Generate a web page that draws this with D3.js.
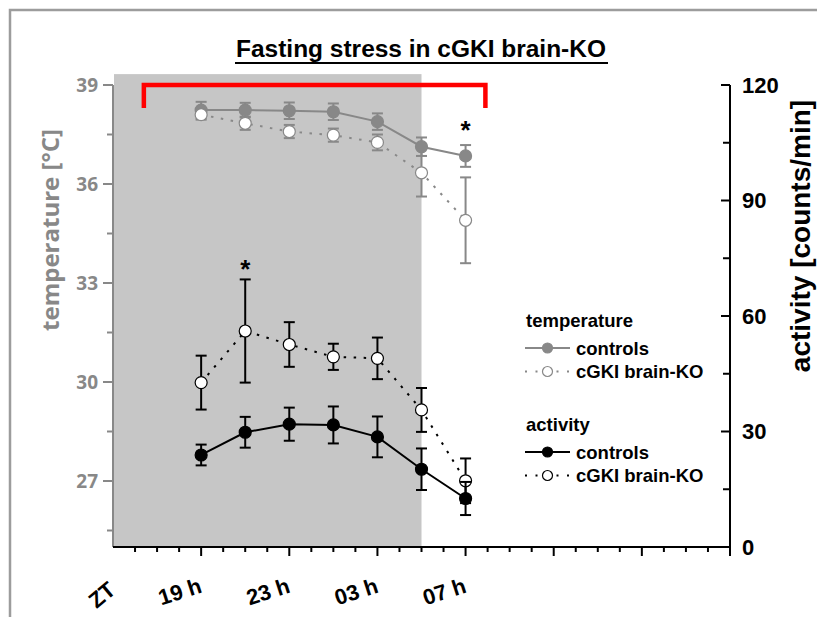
<!DOCTYPE html>
<html>
<head>
<meta charset="utf-8">
<script src="https://cdn.jsdelivr.net/npm/d3@7"></script>
<style>
  body { margin: 0; background: #fff; }
  svg { display: block; }
</style>
</head>
<body>
<div id="chart"></div>
<script>
// time points (hours after ZT start, 19h .. 07h next day)
var hours = [19, 21, 23, 25, 27, 29, 31];

var tempCtrl    = [38.24, 38.24, 38.22, 38.19, 37.89, 37.13, 36.85];
var tempCtrlErr = [0.25, 0.22, 0.25, 0.25, 0.25, 0.28, 0.33];
var tempKO      = [38.10, 37.84, 37.59, 37.48, 37.26, 36.34, 34.90];
var tempKOErr   = [0.15, 0.20, 0.20, 0.20, 0.24, 0.72, 1.30];

var actCtrl    = [23.9, 29.8, 31.9, 31.7, 28.6, 20.2, 12.6];
var actCtrlErr = [2.7, 4.0, 4.3, 4.8, 5.3, 5.4, 4.3];
var actKO      = [42.7, 56.1, 52.6, 49.4, 49.0, 35.6, 17.2];
var actKOErr   = [7.0, 13.4, 5.8, 3.4, 5.4, 5.7, 5.8];

var tempTicks = [27, 30, 33, 36, 39];
var actTicks = [0, 30, 60, 90, 120];
var xLabels = [[19, "19 h"], [23, "23 h"], [27, "03 h"], [31, "07 h"]];

var darkPhase = [15, 29];      // grey band
var fastBracket = [16.4, 31.9]; // red bracket
var stars = [["act", 21, 73], ["temp", 31, 37.72]];

var w = 817, h = 617;
var pLeft = 113, pRight = 730, pTop = 85, pBottom = 547;
var grey = "#888888";

var svg = d3.select("#chart").append("svg")
    .attr("width", w)
    .attr("height", h);

var x = d3.scaleLinear().domain([15, 43]).range([pLeft, pRight]);
var yT = d3.scaleLinear().domain([25, 39]).range([pBottom, pTop]);
var yA = d3.scaleLinear().domain([0, 120]).range([pBottom, pTop]);

// frame
svg.append("rect")
    .attr("x", 10).attr("y", 10)
    .attr("width", 840).attr("height", 640)
    .attr("fill", "none")
    .attr("stroke", "#9c9c9c")
    .attr("stroke-width", 2.5);

// title
svg.append("text")
    .attr("x", 421).attr("y", 57)
    .attr("text-anchor", "middle")
    .attr("font-family", "'Liberation Sans Narrow', 'Liberation Sans', Arial, sans-serif")
    .attr("font-weight", "bold")
    .attr("font-size", 23)
    .attr("textLength", 370)
    .attr("lengthAdjust", "spacingAndGlyphs")
    .text("Fasting stress in cGKI brain-KO");
svg.append("line")
    .attr("x1", 235).attr("x2", 608)
    .attr("y1", 63).attr("y2", 63)
    .attr("stroke", "#000").attr("stroke-width", 2);

// dark phase band
svg.append("rect")
    .attr("x", x(darkPhase[0]) + 1)
    .attr("y", yT(39.33))
    .attr("width", x(darkPhase[1]) - x(darkPhase[0]) - 1)
    .attr("height", pBottom - yT(39.33))
    .attr("fill", "#c6c6c6");

// red bracket
svg.append("path")
    .attr("d", "M" + x(fastBracket[0]) + "," + yT(38.3) +
               "V" + yT(39) + "H" + x(fastBracket[1]) + "V" + yT(38.3))
    .attr("fill", "none")
    .attr("stroke", "#ff0000")
    .attr("stroke-width", 4.5);

// left axis (temperature)
var gL = svg.append("g").attr("transform", "translate(" + pLeft + ",0)");
gL.append("line").attr("y1", yT(39)).attr("y2", pBottom)
    .attr("stroke", grey).attr("stroke-width", 2);
gL.selectAll(".maj").data(tempTicks).enter().append("line")
    .attr("x1", -10).attr("x2", 0)
    .attr("y1", function(d) { return yT(d); })
    .attr("y2", function(d) { return yT(d); })
    .attr("stroke", grey).attr("stroke-width", 2);
gL.selectAll(".min").data([25.5, 28.5, 31.5, 34.5, 37.5]).enter().append("line")
    .attr("x1", -6).attr("x2", 0)
    .attr("y1", function(d) { return yT(d); })
    .attr("y2", function(d) { return yT(d); })
    .attr("stroke", grey).attr("stroke-width", 2);
gL.selectAll("text").data(tempTicks).enter().append("text")
    .attr("x", -15)
    .attr("y", function(d) { return yT(d); })
    .attr("dy", "0.35em")
    .attr("text-anchor", "end")
    .attr("font-family", "'Open Sans', sans-serif")
    .attr("font-weight", "bold")
    .attr("font-size", 19)
    .attr("fill", grey)
    .text(function(d) { return d; });
svg.append("text")
    .attr("transform", "translate(59,230) rotate(-90)")
    .attr("text-anchor", "middle")
    .attr("font-family", "'Open Sans', sans-serif")
    .attr("font-weight", "bold")
    .attr("font-size", 24)
    .attr("fill", grey)
    .text("temperature [°C]");

// right axis (activity)
var gR = svg.append("g").attr("transform", "translate(" + pRight + ",0)");
gR.append("line").attr("y1", pTop).attr("y2", pBottom)
    .attr("stroke", "#000").attr("stroke-width", 2);
gR.selectAll(".maj").data(actTicks).enter().append("line")
    .attr("x1", -9).attr("x2", 0)
    .attr("y1", function(d) { return yA(d); })
    .attr("y2", function(d) { return yA(d); })
    .attr("stroke", "#000").attr("stroke-width", 2);
gR.selectAll(".min").data([15, 45, 75, 105]).enter().append("line")
    .attr("x1", -7).attr("x2", 0)
    .attr("y1", function(d) { return yA(d); })
    .attr("y2", function(d) { return yA(d); })
    .attr("stroke", "#000").attr("stroke-width", 2);
gR.selectAll("text").data(actTicks).enter().append("text")
    .attr("x", 12)
    .attr("y", function(d) { return yA(d); })
    .attr("dy", "0.36em")
    .attr("font-family", "'Liberation Sans', Arial, sans-serif")
    .attr("font-weight", "bold")
    .attr("font-size", 22)
    .text(function(d) { return d; });
svg.append("text")
    .attr("transform", "translate(810,236) rotate(-90)")
    .attr("text-anchor", "middle")
    .attr("font-family", "'Liberation Sans', Arial, sans-serif")
    .attr("font-weight", "bold")
    .attr("font-size", 28)
    .text("activity [counts/min]");

// x axis
var gX = svg.append("g").attr("transform", "translate(0," + pBottom + ")");
gX.append("line").attr("x1", pLeft).attr("x2", pRight)
    .attr("stroke", "#000").attr("stroke-width", 2);
gX.selectAll(".tk").data(d3.range(16, 44)).enter().append("line")
    .attr("x1", function(d) { return x(d); })
    .attr("x2", function(d) { return x(d); })
    .attr("y1", 0)
    .attr("y2", function(d) { return (d - 15) % 4 === 0 ? 9 : 5; })
    .attr("stroke", "#000").attr("stroke-width", 2);
gX.selectAll("text").data(xLabels).enter().append("text")
    .attr("transform", function(d) { return "translate(" + (x(d[0]) + 2) + ",45) rotate(-18)"; })
    .attr("text-anchor", "end")
    .attr("font-family", "'Liberation Sans', Arial, sans-serif")
    .attr("font-weight", "bold")
    .attr("font-size", 22)
    .text(function(d) { return d[1]; });
gX.append("text")
    .attr("transform", "translate(117,45) rotate(-40)")
    .attr("text-anchor", "end")
    .attr("font-family", "'Liberation Sans', Arial, sans-serif")
    .attr("font-weight", "bold")
    .attr("font-size", 22)
    .text("ZT");

// series
function drawSeries(vals, errs, y, color, fill, dashed) {
    var g = svg.append("g");
    var pts = hours.map(function(hr, i) { return [hr, vals[i], errs[i]]; });
    g.append("path")
        .datum(pts)
        .attr("d", d3.line()
            .x(function(d) { return x(d[0]); })
            .y(function(d) { return y(d[1]); }))
        .attr("fill", "none")
        .attr("stroke", color)
        .attr("stroke-width", 2)
        .attr("stroke-dasharray", dashed ? "2.5,7.5" : null);
    var eb = g.selectAll(".eb").data(pts).enter().append("g");
    eb.append("line")
        .attr("x1", function(d) { return x(d[0]); })
        .attr("x2", function(d) { return x(d[0]); })
        .attr("y1", function(d) { return y(d[1] - d[2]); })
        .attr("y2", function(d) { return y(d[1] + d[2]); })
        .attr("stroke", color).attr("stroke-width", 2);
    [-1, 1].forEach(function(s) {
        eb.append("line")
            .attr("x1", function(d) { return x(d[0]) - 5.5; })
            .attr("x2", function(d) { return x(d[0]) + 5.5; })
            .attr("y1", function(d) { return y(d[1] + s * d[2]); })
            .attr("y2", function(d) { return y(d[1] + s * d[2]); })
            .attr("stroke", color).attr("stroke-width", 2);
    });
    g.selectAll("circle").data(pts).enter().append("circle")
        .attr("cx", function(d) { return x(d[0]); })
        .attr("cy", function(d) { return y(d[1]); })
        .attr("r", 6)
        .attr("fill", fill)
        .attr("stroke", color)
        .attr("stroke-width", 1.2);
}

drawSeries(actKO, actKOErr, yA, "#000", "#fff", true);
drawSeries(actCtrl, actCtrlErr, yA, "#000", "#000", false);
drawSeries(tempCtrl, tempCtrlErr, yT, grey, grey, false);
drawSeries(tempKO, tempKOErr, yT, grey, "#fff", true);

// significance stars
svg.selectAll(".star").data(stars).enter().append("text")
    .attr("x", function(d) { return x(d[1]); })
    .attr("y", function(d) { return (d[0] === "act" ? yA(d[2]) : yT(d[2])) + 12; })
    .attr("text-anchor", "middle")
    .attr("font-family", "'Liberation Sans', Arial, sans-serif")
    .attr("font-weight", "bold")
    .attr("font-size", 26)
    .text("*");

// legend
var legend = [
    { head: "temperature", y: 327, items: [
        { label: "controls", color: grey, fill: grey, dashed: false },
        { label: "cGKI brain-KO", color: grey, fill: "#fff", dashed: true }] },
    { head: "activity", y: 431, items: [
        { label: "controls", color: "#000", fill: "#000", dashed: false },
        { label: "cGKI brain-KO", color: "#000", fill: "#fff", dashed: true }] }
];
var lg = svg.append("g")
    .attr("font-family", "'Liberation Sans', Arial, sans-serif")
    .attr("font-weight", "bold")
    .attr("font-size", 18.5);
legend.forEach(function(grp) {
    lg.append("text").attr("x", 526).attr("y", grp.y).text(grp.head);
    grp.items.forEach(function(it, i) {
        var cy = grp.y + 21 + i * 23.5;
        lg.append("line")
            .attr("x1", 525).attr("x2", 570)
            .attr("y1", cy).attr("y2", cy)
            .attr("stroke", it.color).attr("stroke-width", 2)
            .attr("stroke-dasharray", it.dashed ? "2,8.5" : null);
        lg.append("circle")
            .attr("cx", 547.5).attr("cy", cy).attr("r", 5)
            .attr("fill", it.fill).attr("stroke", it.color).attr("stroke-width", 1.2);
        lg.append("text").attr("x", 576).attr("y", cy + 6.5).text(it.label);
    });
});
</script>
</body>
</html>
